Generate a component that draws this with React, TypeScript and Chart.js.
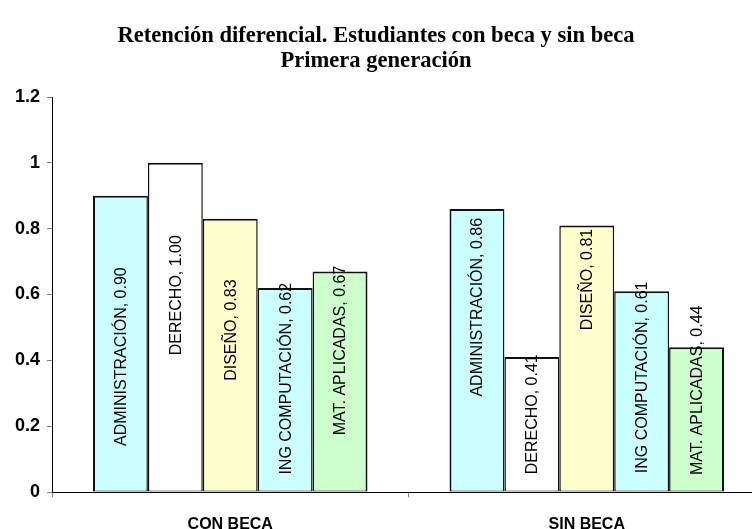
import React, { useEffect, useRef } from "react";
import { Chart, registerables } from "chart.js";

Chart.register(...registerables);

// ---- data ----
const categories = ["CON BECA", "SIN BECA"];
const programs = ["ADMINISTRACIÓN", "DERECHO", "DISEÑO", "ING COMPUTACIÓN", "MAT. APLICADAS"];
const administracion = [0.9, 0.86];
const derecho = [1.0, 0.41];
const diseno = [0.83, 0.81];
const ingComputacion = [0.62, 0.61];
const matAplicadas = [0.67, 0.44];
const titleLines = ["Retención diferencial. Estudiantes con beca y sin beca", "Primera generación"];
const yMin = 0;
const yMax = 1.2;
const yStep = 0.2;

// ---- styles ----
const VIEW_W = 752;
const VIEW_H = 529;
const CANVAS_W = 765;
const fills = ["#CCFFFF", "#FFFFFF", "#FFFFCC", "#CCFFFF", "#CCFFCC"];
// per-label vertical nudges (px) relative to bar middle, [con beca, sin beca]
const labelNudge = [
  [13, -43],
  [-32, -10],
  [-25, -79],
  [-11, -14],
  [-31, -29],
];

const titlePlugin = {
  id: "customTitle",
  afterDraw(chart: any) {
    const ctx = chart.ctx;
    ctx.save();
    ctx.fillStyle = "#000";
    ctx.font = "bold 24px 'Liberation Serif', 'Times New Roman', serif";
    ctx.textAlign = "center";
    ctx.textBaseline = "alphabetic";
    const baselines = [42, 67];
    titleLines.forEach((line, i) => {
      ctx.save();
      ctx.translate(VIEW_W / 2, baselines[i]);
      ctx.scale(0.94, 1);
      ctx.fillText(line, 0, 0);
      ctx.restore();
    });
    ctx.restore();
  },
};

const barLabelPlugin = {
  id: "barLabels",
  afterDatasetsDraw(chart: any) {
    const ctx = chart.ctx;
    ctx.save();
    ctx.fillStyle = "#000";
    ctx.font = "16px 'Liberation Sans', Arial, sans-serif";
    ctx.textAlign = "center";
    ctx.textBaseline = "middle";
    chart.data.datasets.forEach((ds: any, di: number) => {
      const meta = chart.getDatasetMeta(di);
      meta.data.forEach((bar: any, i: number) => {
        const v = ds.data[i] as number;
        const text = `${ds.label}, ${v.toFixed(2)}`;
        const yc = (bar.y + bar.base) / 2 + labelNudge[di][i];
        ctx.save();
        ctx.translate(bar.x, yc);
        ctx.rotate(-Math.PI / 2);
        ctx.fillText(text, 0, 1);
        ctx.restore();
      });
    });
    ctx.restore();
  },
};

export default function App() {
  const ref = useRef<HTMLCanvasElement | null>(null);

  useEffect(() => {
    if (!ref.current) return;
    const series = [administracion, derecho, diseno, ingComputacion, matAplicadas];
    const datasets = series.map((data, i) => ({
      label: programs[i],
      data,
      backgroundColor: fills[i],
      borderColor: "#111111",
      borderWidth: { top: 2, bottom: 1, left: i === 0 ? 2 : 1.5, right: i === series.length - 1 ? 2 : 1.5 },
      borderSkipped: false,
      barPercentage: 1,
      categoryPercentage: 0.77,
    }));

    const chart = new Chart(ref.current, {
      type: "bar",
      data: { labels: categories, datasets },
      options: {
        responsive: false,
        animation: false,
        layout: { padding: { top: 97, left: 0, right: 0, bottom: 0 } },
        plugins: {
          legend: { display: false },
          title: { display: false },
          tooltip: { enabled: false },
        },
        scales: {
          x: {
            grid: {
              display: true,
              drawOnChartArea: false,
              drawTicks: true,
              tickLength: 5,
              color: "#808080",
              offset: true,
            },
            border: { display: true, color: "#000", width: 1 },
            ticks: {
              color: "#000",
              padding: 18,
              font: { family: "'Liberation Sans', Arial, sans-serif", size: 16, weight: "bold" },
            },
            afterFit(scale: any) {
              scale.height = 37;
            },
          },
          y: {
            min: yMin,
            max: yMax,
            grid: {
              display: true,
              drawOnChartArea: false,
              drawTicks: true,
              tickLength: 5,
              color: "#808080",
            },
            border: { display: true, color: "#000", width: 1 },
            ticks: {
              stepSize: yStep,
              color: "#000",
              padding: 7,
              font: { family: "'Liberation Sans', Arial, sans-serif", size: 18, weight: "bold" },
              callback: (v: any) => String(Number(Number(v).toFixed(1))),
            },
            afterFit(scale: any) {
              scale.width = 52;
            },
          },
        },
      },
      plugins: [titlePlugin, barLabelPlugin],
    });
    return () => chart.destroy();
  }, []);

  return (
    <div
      style={{
        position: "fixed",
        left: 0,
        top: 0,
        width: VIEW_W,
        height: VIEW_H,
        overflow: "hidden",
        background: "#fff",
      }}
    >
      <canvas ref={ref} width={CANVAS_W} height={VIEW_H} style={{ display: "block" }} />
    </div>
  );
}
